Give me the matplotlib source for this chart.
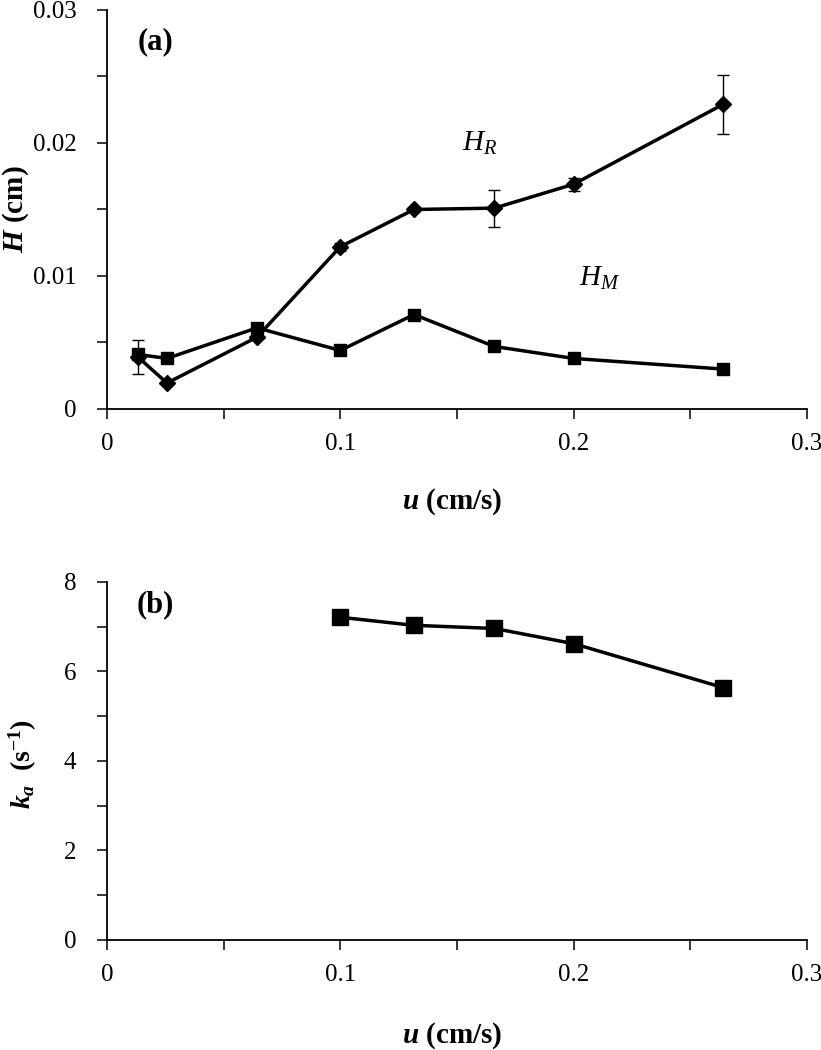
import numpy as np
import matplotlib
matplotlib.use("Agg")
import matplotlib.pyplot as plt

plt.rcParams['font.family'] = ['Liberation Serif', 'DejaVu Serif']
plt.rcParams['mathtext.fontset'] = 'custom'
plt.rcParams['mathtext.rm'] = 'Liberation Serif'
plt.rcParams['mathtext.it'] = 'Liberation Serif:italic:bold'
plt.rcParams['mathtext.bf'] = 'Liberation Serif:bold'
plt.rcParams['mathtext.sf'] = 'Liberation Serif:italic'

# panel (a): heights vs superficial velocity
u_a = [0.0133, 0.0257, 0.0643, 0.1, 0.1316, 0.166, 0.2, 0.264]
H_R = [0.0039, 0.00195, 0.0054, 0.0122, 0.0150, 0.0151, 0.0169, 0.0229]
H_R_err = [0.0013, 0.0, 0.0, 0.0003, 0.0, 0.0014, 0.0005, 0.0022]
H_M = [0.0041, 0.0038, 0.0061, 0.0044, 0.0071, 0.0047, 0.0038, 0.0030]

# panel (b): k_a
u_b = [0.1, 0.1316, 0.166, 0.2, 0.264]
k_a = [7.21, 7.03, 6.96, 6.62, 5.64]

x_ticks = [0, 0.1, 0.2, 0.3]
x_labels = ["0", "0.1", "0.2", "0.3"]
ya_ticks = [0, 0.01, 0.02, 0.03]
ya_labels = ["0", "0.01", "0.02", "0.03"]
yb_ticks = [0, 2, 4, 6, 8]
yb_labels = ["0", "2", "4", "6", "8"]

fig = plt.figure(figsize=(8.21, 10.5), dpi=100)
ax1 = fig.add_axes([0.1303, 0.6105, 0.8526, 0.380])
ax2 = fig.add_axes([0.1303, 0.1048, 0.8526, 0.341])

def style(ax, yt, yl, yminor):
    for s in ['top', 'right']:
        ax.spines[s].set_visible(False)
    for s in ['left', 'bottom']:
        ax.spines[s].set_linewidth(1.3)
    ax.set_xlim(0, 0.3)
    ax.set_xticks(x_ticks, x_labels)
    ax.set_xticks([0.05, 0.15, 0.25], minor=True)
    ax.set_yticks(yt, yl)
    ax.set_yticks(yminor, minor=True)
    ax.set_ylim(yt[0], yt[-1])
    ax.tick_params(which='both', direction='out', length=7, width=1.1)
    ax.tick_params(axis='x', which='major', labelsize=18, pad=10)
    ax.tick_params(axis='y', which='major', labelsize=18, pad=15)

style(ax1, ya_ticks, ya_labels, [0.005, 0.015, 0.025])
style(ax2, yb_ticks, yb_labels, [1, 3, 5, 7])

ax1.errorbar(u_a, H_R, yerr=H_R_err, color='black', lw=2.5, marker='D', ms=8,
             ecolor='black', elinewidth=1.0, capsize=4, capthick=1.0, clip_on=False)
ax1.plot(u_a, H_M, color='black', lw=2.5, marker='s', ms=8, clip_on=False)

ax1.text(0.160, 0.0200, r"$\mathsf{H_R}$", fontsize=21, ha='center', va='center')
ax1.text(0.211, 0.0098, r"$\mathsf{H_M}$", fontsize=21, ha='center', va='center')
ax1.text(0.0206, 0.0276, "(a)", fontsize=22, fontweight='bold', ha='center', va='center')

ax1.set_xlabel(r"$u$ (cm/s)", fontsize=21, fontweight='bold')
ax1.xaxis.set_label_coords(0.493, -0.195)
ax1.set_ylabel(r"$H$ (cm)", fontsize=21, fontweight='bold')
ax1.yaxis.set_label_coords(-0.108, 0.5)

ax2.plot(u_b, k_a, color='black', lw=2.5, marker='s', ms=11.5, clip_on=False)
ax2.text(0.0206, 7.49, "(b)", fontsize=22, fontweight='bold', ha='center', va='center')
ax2.set_xlabel(r"$u$ (cm/s)", fontsize=21, fontweight='bold')
ax2.xaxis.set_label_coords(0.493, -0.225)
ax2.set_ylabel(r"$k_a$  (s$^{\mathbf{-1}}$)", fontsize=20, fontweight='bold')
ax2.yaxis.set_label_coords(-0.097, 0.49)

fig.savefig("out.png", dpi=100)
